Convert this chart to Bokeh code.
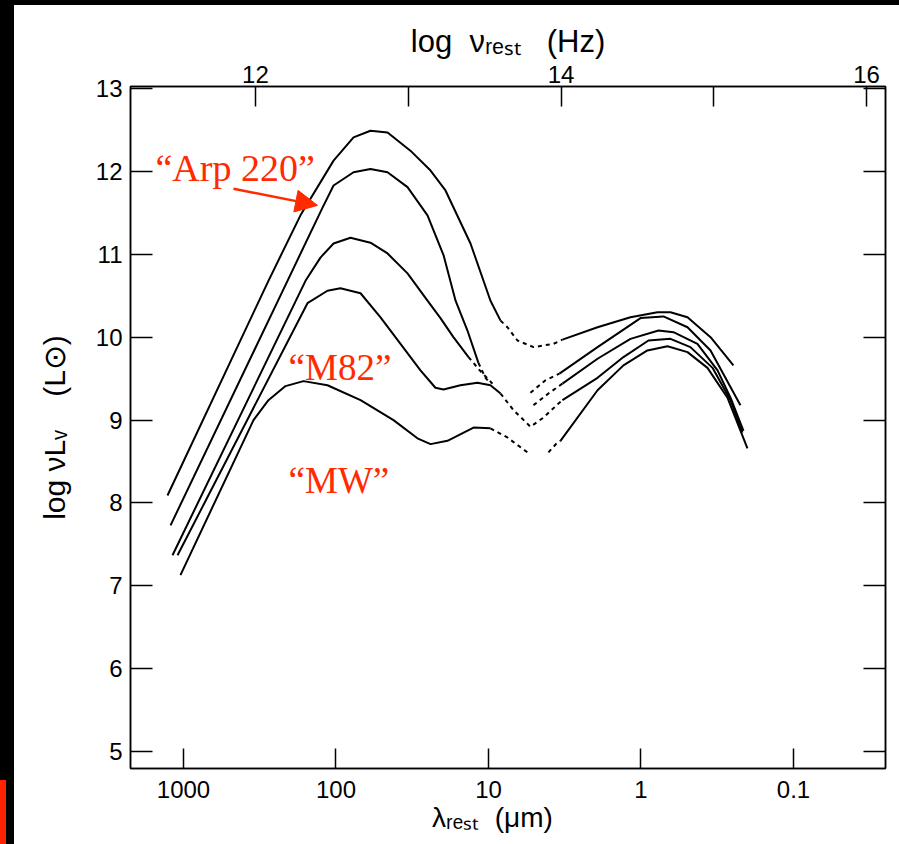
from bokeh.plotting import figure
from bokeh.models import Range1d, LinearAxis, FixedTicker, Label, Arrow, NormalHead, Div
from bokeh.layouts import row, column
from bokeh.embed import file_html
from bokeh.resources import INLINE

# ---- data: x = log10(lambda_rest / micron), y = log(nu L_nu / L_sun) ----
c1_fir_lam = [3.105, 2.443, 2.233, 2.016, 1.885, 1.774, 1.662, 1.512, 1.380, 1.282, 1.118, 0.987, 0.921]
c1_fir_L = [8.09, 10.68, 11.47, 12.13, 12.41, 12.49, 12.47, 12.25, 12.01, 11.77, 11.13, 10.44, 10.20]
c1_dot_lam = [0.921, 0.876, 0.810, 0.705, 0.574, 0.515]
c1_dot_L = [10.20, 10.12, 9.96, 9.88, 9.92, 9.97]
c1_nir_lam = [0.515, 0.285, 0.069, -0.108, -0.193, -0.305, -0.456, -0.606]
c1_nir_L = [9.97, 10.12, 10.24, 10.30, 10.30, 10.24, 10.00, 9.66]

c2_fir_lam = [3.085, 2.318, 2.089, 2.016, 1.885, 1.774, 1.662, 1.531, 1.400, 1.295, 1.216, 1.138, 1.066]
c2_fir_L = [7.73, 10.68, 11.56, 11.83, 11.99, 12.03, 11.99, 11.81, 11.47, 10.99, 10.44, 10.08, 9.69]
c2_fdot_lam = [1.066, 1.020, 0.987]
c2_fdot_L = [9.69, 9.51, 9.44]
c2_ndot_lam = [0.725, 0.626, 0.535]
c2_ndot_L = [9.33, 9.48, 9.56]
c2_nir_lam = [0.535, 0.285, 0.003, -0.147, -0.305, -0.456, -0.652]
c2_nir_L = [9.56, 9.88, 10.23, 10.25, 10.12, 9.84, 9.18]

c3_fir_lam = [3.072, 2.200, 2.102, 2.016, 1.905, 1.774, 1.662, 1.531, 1.400, 1.315, 1.230, 1.131]
c3_fir_L = [7.37, 10.68, 10.96, 11.13, 11.20, 11.14, 11.01, 10.77, 10.44, 10.23, 10.00, 9.76]
c3_fdot_lam = [1.131, 1.053, 0.974]
c3_fdot_L = [9.76, 9.59, 9.44]
c3_ndot_lam = [0.705, 0.607, 0.515]
c3_ndot_L = [9.18, 9.32, 9.44]
c3_nir_lam = [0.515, 0.285, 0.069, -0.115, -0.213, -0.370, -0.502, -0.587, -0.672]
c3_nir_L = [9.44, 9.74, 9.98, 10.08, 10.06, 9.92, 9.60, 9.27, 8.87]

c4_fir_lam = [3.039, 2.187, 2.056, 1.971, 1.839, 1.708, 1.577, 1.446, 1.348, 1.295, 1.184, 1.072, 0.987, 0.921]
c4_fir_L = [7.37, 10.41, 10.56, 10.59, 10.53, 10.24, 9.92, 9.60, 9.39, 9.37, 9.42, 9.45, 9.42, 9.32]
c4_dot_lam = [0.921, 0.836, 0.725, 0.639, 0.541, 0.515]
c4_dot_L = [9.32, 9.12, 8.92, 9.03, 9.20, 9.24]
c4_nir_lam = [0.515, 0.285, 0.115, -0.049, -0.193, -0.324, -0.469, -0.587, -0.665]
c4_nir_L = [9.24, 9.51, 9.76, 9.96, 9.98, 9.88, 9.63, 9.24, 8.85]

c5_fir_lam = [3.020, 2.541, 2.443, 2.331, 2.213, 2.056, 1.839, 1.623, 1.466, 1.380, 1.269, 1.098, 0.987]
c5_fir_L = [7.13, 9.00, 9.24, 9.41, 9.47, 9.42, 9.24, 9.00, 8.78, 8.71, 8.75, 8.91, 8.90]
c5_fdot_lam = [0.987, 0.876, 0.744]
c5_fdot_L = [8.90, 8.79, 8.61]
c5_ndot_lam = [0.607, 0.548, 0.528]
c5_ndot_L = [8.61, 8.73, 8.75]
c5_nir_lam = [0.528, 0.285, 0.115, -0.042, -0.174, -0.305, -0.436, -0.567, -0.698]
c5_nir_L = [8.75, 9.36, 9.66, 9.84, 9.89, 9.82, 9.63, 9.27, 8.66]

lam_ticks = [3, 2, 1, 0, -1]
lam_tick_labels = ["1000", "100", "10", "1", "0.1"]
nu_ticks = [12, 13, 14, 15, 16]
nu_tick_labels = ["12", "", "14", "", "16"]
y_ticks = [5, 6, 7, 8, 9, 10, 11, 12, 13]

NB = "\u00a0"
x_title = "\u03bb\u1d63\u2091\u209b\u209c" + NB * 2 + "(\u03bcm)" + NB * 4
top_title = "log" + NB * 2 + "\u03bd\u1d63\u2091\u209b\u209c" + NB * 3 + "(Hz)"
y_title = "log" + NB + "\u03bdL\u1d65" + NB * 4 + "(L\u2299)"

RED = "#ff2a00"
SANS = "Liberation Sans"
SERIF = "Liberation Serif"

p = figure(width=885, height=839, output_backend="svg", toolbar_location=None,
           x_range=Range1d(3.3475, -1.6033), y_range=Range1d(4.797, 13.024),
           min_border_left=116, min_border_right=14, min_border_top=81, min_border_bottom=76,
           x_axis_location="below", y_axis_location="left")
p.extra_x_ranges = {"nu": Range1d(11.182, 16.124)}
p.xgrid.visible = False
p.ygrid.visible = False
p.background_fill_color = "white"
p.border_fill_color = "white"
p.outline_line_color = "black"
p.outline_line_width = 1.5

def style_axis(ax, size="24px", standoff=6, tick_in=20):
    ax.axis_line_color = "black"
    ax.axis_line_width = 1.5
    ax.major_tick_in = tick_in
    ax.major_tick_out = 0
    ax.major_tick_line_width = 1.5
    ax.minor_tick_line_color = None
    ax.major_label_text_font = SANS
    ax.major_label_text_font_size = size
    ax.major_label_text_color = "black"
    ax.major_label_standoff = standoff
    ax.axis_label_text_font = SANS
    ax.axis_label_text_font_style = "normal"
    ax.axis_label_text_color = "black"

xb = p.xaxis[0]
xb.ticker = FixedTicker(ticks=lam_ticks)
xb.major_label_overrides = dict(zip(lam_ticks, lam_tick_labels))
style_axis(xb, standoff=12, tick_in=20)
xb.axis_label = x_title
xb.axis_label_text_font_size = "28px"
xb.axis_label_standoff = 1

yl = p.yaxis[0]
yl.ticker = FixedTicker(ticks=y_ticks)
style_axis(yl, standoff=8, tick_in=22)
yl.axis_label = y_title
yl.axis_label_text_font_size = "30px"
yl.axis_label_standoff = 22

xt = LinearAxis(x_range_name="nu", ticker=FixedTicker(ticks=nu_ticks))
xt.major_label_overrides = dict(zip(nu_ticks, nu_tick_labels))
style_axis(xt, standoff=4, tick_in=20)
xt.axis_label = top_title
xt.axis_label_text_font_size = "31px"
xt.axis_label_standoff = 4
p.add_layout(xt, "above")

yr = LinearAxis(ticker=FixedTicker(ticks=y_ticks))
style_axis(yr, size="0px", standoff=0, tick_in=22)
yr.major_label_text_alpha = 0
p.add_layout(yr, "right")

solid = [(c1_fir_lam, c1_fir_L), (c1_nir_lam, c1_nir_L),
         (c2_fir_lam, c2_fir_L), (c2_nir_lam, c2_nir_L),
         (c3_fir_lam, c3_fir_L), (c3_nir_lam, c3_nir_L),
         (c4_fir_lam, c4_fir_L), (c4_nir_lam, c4_nir_L),
         (c5_fir_lam, c5_fir_L), (c5_nir_lam, c5_nir_L)]
dotted = [(c1_dot_lam, c1_dot_L), (c2_fdot_lam, c2_fdot_L), (c2_ndot_lam, c2_ndot_L),
          (c3_fdot_lam, c3_fdot_L), (c3_ndot_lam, c3_ndot_L), (c4_dot_lam, c4_dot_L),
          (c5_fdot_lam, c5_fdot_L), (c5_ndot_lam, c5_ndot_L)]
for xs, ys in solid:
    p.line(xs, ys, line_color="black", line_width=2, line_join="round")
for xs, ys in dotted:
    p.line(xs, ys, line_color="black", line_width=2, line_dash="4 4")

# red annotations
for txt, x, y, sz in [("\u201cArp 220\u201d", 3.184, 12.035, "38px"),
                      ("\u201cM82\u201d", 2.311, 9.634, "37px"),
                      ("\u201cMW\u201d", 2.311, 8.271, "37px")]:
    p.add_layout(Label(x=x, y=y, text=txt, text_font=SERIF, text_font_size=sz,
                       text_color=RED, text_baseline="alphabetic", text_align="left"))
p.add_layout(Arrow(x_start=2.672, y_start=11.79, x_end=2.121, y_end=11.59,
                   line_color=RED, line_width=2.5,
                   end=NormalHead(size=22, fill_color=RED, line_color=RED)))

# slide decoration: black edges with a red tab at lower left
top_strip = Div(text="", width=899, height=5, margin=0, styles={"background-color": "#000000"})
left_strip = Div(text="", width=14, height=839, margin=0, styles={
    "background": "linear-gradient(to right, #ff2200 6px, #000000 6px) left 0px top 775px / 14px 64px no-repeat, #000000"})

layout = column(top_strip, row(left_strip, p, spacing=0, margin=0), spacing=0, margin=0)
open("out.html", "w").write(file_html(layout, INLINE))
